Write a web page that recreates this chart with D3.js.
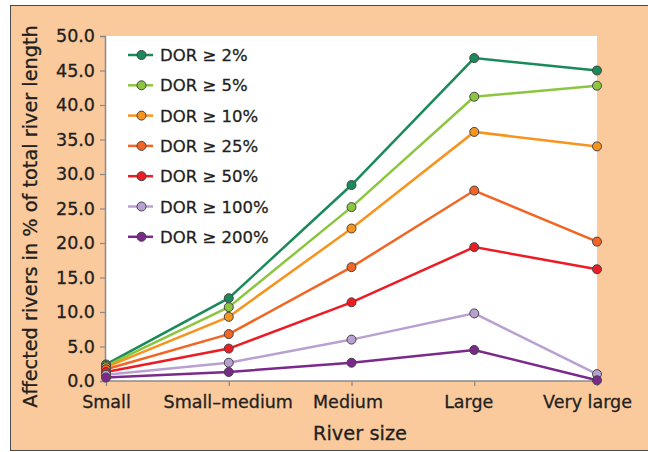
<!DOCTYPE html>
<html>
<head>
<meta charset="utf-8">
<script src="https://cdn.jsdelivr.net/npm/d3@7"></script>
<style>
  body { margin: 0; background: #fff; }
  text { font-family: "DejaVu Sans", sans-serif; fill: #231f20; stroke: #231f20; stroke-width: 0.3px; }
</style>
</head>
<body>
<div id="container"></div>
<script>
// DATA
const sizes = ["Small", "Small\u2013medium", "Medium", "Large", "Very large"];
const seriesNames = ["DOR \u2265 2%", "DOR \u2265 5%", "DOR \u2265 10%", "DOR \u2265 25%", "DOR \u2265 50%", "DOR \u2265 100%", "DOR \u2265 200%"];
const dor2 = [2.4, 12.0, 28.4, 46.8, 45.0];
const dor5 = [2.2, 10.7, 25.2, 41.2, 42.8];
const dor10 = [2.0, 9.3, 22.1, 36.1, 34.0];
const dor25 = [1.7, 6.8, 16.5, 27.6, 20.2];
const dor50 = [1.3, 4.7, 11.4, 19.4, 16.2];
const dor100 = [0.9, 2.65, 6.0, 9.8, 1.0];
const dor200 = [0.5, 1.3, 2.65, 4.5, 0.1];
const yTicks = [0, 5, 10, 15, 20, 25, 30, 35, 40, 45, 50];
const colors = ["#1a8a5a", "#8cc63f", "#f7941d", "#f26522", "#ed1c24", "#b9a0d2", "#7b2a8c"];

const allSeries = [dor2, dor5, dor10, dor25, dor50, dor100, dor200];

// CONSTANTS
const width = 648, height = 452;
const margin = { top: 36, bottom: 71, left: 105, right: 51 };
const labelShift = [0, -1, -4, -6, -10]; // x labels sit a little left of their ticks

const svg = d3.select("#container")
  .append("svg")
  .attr("width", width)
  .attr("height", height);

// BACKGROUND PANEL
svg.append("rect")
  .attr("x", 10.5).attr("y", 5.5)
  .attr("width", 660).attr("height", 445)
  .attr("fill", "#fac99c")
  .attr("stroke", "#4a4a4a")
  .attr("stroke-width", 1);

svg.append("rect")
  .attr("x", margin.left).attr("y", margin.top)
  .attr("width", width - margin.left - margin.right)
  .attr("height", height - margin.top - margin.bottom)
  .attr("fill", "#fff");

// SCALES
const xScale = d3.scalePoint()
  .domain(sizes)
  .range([margin.left + 1, width - margin.right]);

const yScale = d3.scaleLinear()
  .domain([0, 50])
  .range([height - margin.bottom, margin.top]);

// AXES
const xAxis = d3.axisBottom(xScale).tickSize(5).tickPadding(10);
const xAxisGroup = svg.append("g")
  .attr("transform", `translate(0, ${height - margin.bottom})`)
  .call(xAxis);
xAxisGroup.select(".domain").attr("d", `M${margin.left},0H${width - margin.right}`);
xAxisGroup.selectAll(".tick text").attr("dx", (d, i) => labelShift[i]);

const yAxis = d3.axisLeft(yScale).tickValues(yTicks).tickFormat(d3.format(".1f")).tickSize(5).tickPadding(5);
const yAxisGroup = svg.append("g")
  .attr("transform", `translate(${margin.left}, 0)`)
  .call(yAxis);

[xAxisGroup, yAxisGroup].forEach(g => {
  g.select(".domain").attr("stroke", "#8a8a8a").attr("stroke-width", 1.5);
  g.selectAll(".tick line").attr("stroke", "#8a8a8a").attr("stroke-width", 1.2);
  g.selectAll(".tick text")
    .attr("fill", "#231f20")
    .style("font-size", "17.5px")
    .style("font-family", "DejaVu Sans, sans-serif");
});

// AXIS TITLES
svg.append("text")
  .attr("transform", `translate(37, ${(25 + 408) / 2}) rotate(-90)`)
  .attr("text-anchor", "middle")
  .style("font-size", "19.3px")
  .text("Affected rivers in % of total river length");

svg.append("text")
  .attr("x", 360)
  .attr("y", 440)
  .attr("text-anchor", "middle")
  .style("font-size", "19.4px")
  .text("River size");

// LINES
const line = d3.line()
  .x((d, i) => xScale(sizes[i]))
  .y(d => yScale(d));

allSeries.forEach((s, k) => {
  svg.append("path")
    .datum(s)
    .attr("fill", "none")
    .attr("stroke", colors[k])
    .attr("stroke-width", 2.5)
    .attr("d", line);
});

allSeries.forEach((s, k) => {
  svg.append("g")
    .selectAll("circle")
    .data(s)
    .join("circle")
    .attr("cx", (d, i) => xScale(sizes[i]))
    .attr("cy", d => yScale(d))
    .attr("r", 4.5)
    .attr("fill", colors[k])
    .attr("stroke", "#444")
    .attr("stroke-width", 1);
});

// LEGEND
const legend = svg.append("g").attr("transform", "translate(128, 55)");
seriesNames.forEach((name, k) => {
  const row = legend.append("g").attr("transform", `translate(0, ${k * 30.3})`);
  row.append("line")
    .attr("x1", 0).attr("x2", 25)
    .attr("stroke", colors[k]).attr("stroke-width", 2.5);
  row.append("circle")
    .attr("cx", 13.5).attr("r", 4.5)
    .attr("fill", colors[k]).attr("stroke", "#444").attr("stroke-width", 1);
  row.append("text")
    .attr("x", 32).attr("y", 6)
    .style("font-size", "16.5px")
    .text(name);
});
</script>
</body>
</html>
